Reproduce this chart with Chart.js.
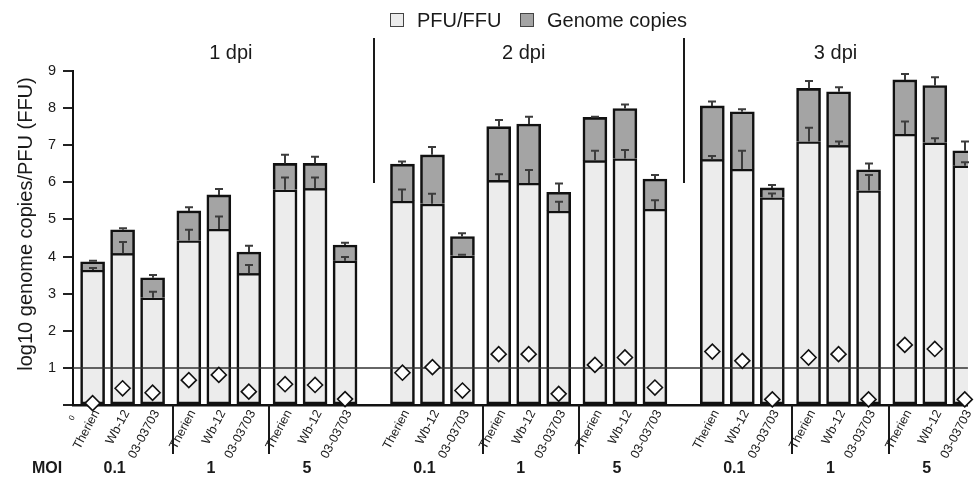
<!DOCTYPE html>
<html>
<head>
<meta charset="utf-8">
<script src="https://cdn.jsdelivr.net/npm/chart.js@4.4.1/dist/chart.umd.min.js"></script>
<style>
  html, body { margin: 0; padding: 0; background: #fff; }
  #wrap { width: 977px; height: 478px; position: relative; }
</style>
</head>
<body>
<div id="wrap"><canvas id="c" width="977" height="478"></canvas></div>
<script>
// ---- data ----
const dpiGroups = ['1 dpi', '2 dpi', '3 dpi'];
const moiLevels = ['0.1', '1', '5'];
const strains = ['Therien', 'Wb-12', '03-03703'];
const yTicks = [0, 1, 2, 3, 4, 5, 6, 7, 8, 9];

// order: dpi -> MOI -> strain
const pfu = [
  3.64, 4.09, 2.89, 4.43, 4.74, 3.55, 5.80, 5.84, 3.89,
  5.50, 5.42, 4.02, 6.06, 5.98, 5.23, 6.59, 6.64, 5.28,
  6.62, 6.36, 5.59, 7.10, 7.00, 5.78, 7.30, 7.07, 6.45
];
const pfuErr = [
  0.05, 0.30, 0.16, 0.29, 0.34, 0.22, 0.33, 0.29, 0.10,
  0.31, 0.27, 0.03, 0.16, 0.35, 0.25, 0.26, 0.23, 0.24,
  0.09, 0.49, 0.11, 0.37, 0.10, 0.42, 0.34, 0.12, 0.09
];
const genome = [
  3.86, 4.72, 3.43, 5.23, 5.66, 4.12, 6.51, 6.51, 4.31,
  6.49, 6.74, 4.54, 7.50, 7.57, 5.73, 7.75, 7.99, 6.09,
  8.06, 7.90, 5.85, 8.53, 8.44, 6.34, 8.76, 8.61, 6.85
];
const genomeErr = [
  0.03, 0.04, 0.07, 0.10, 0.16, 0.17, 0.23, 0.18, 0.06,
  0.07, 0.21, 0.09, 0.18, 0.20, 0.24, 0.02, 0.11, 0.11,
  0.12, 0.07, 0.08, 0.20, 0.12, 0.17, 0.16, 0.22, 0.25
];
const ratio = [
  0.05, 0.45, 0.33, 0.67, 0.81, 0.36, 0.56, 0.54, 0.16,
  0.87, 1.02, 0.39, 1.37, 1.37, 0.30, 1.08, 1.28, 0.47,
  1.44, 1.19, 0.15, 1.28, 1.37, 0.15, 1.62, 1.51, 0.15
];
const refLine = 1;

// ---- layout of the slots on the linear x scale ----
const SUB_STRIDE = 3.208, GRP_STRIDE = 10.33;
const pos = [];
dpiGroups.forEach((g, gi) => moiLevels.forEach((m, mi) => strains.forEach((s, si) => {
  pos.push(gi * GRP_STRIDE + mi * SUB_STRIDE + si);
})));

const FONT = '"Liberation Sans", Arial, Helvetica, sans-serif';
Chart.defaults.font.family = FONT;
Chart.defaults.color = '#1a1a1a';

const PFU_COLOR = '#ececec', GEN_COLOR = '#a4a4a4', EDGE = '#111111';

const deco = {
  id: 'deco',
  beforeDatasetDraw(chart, args) {
    if (args.index !== 2) return;
    const { ctx, scales: { x, y }, chartArea: a } = chart;
    ctx.save();
    // error bars
    ctx.strokeStyle = '#3c3c3c';
    ctx.lineWidth = 2;
    pos.forEach((p, i) => {
      const px = Math.round(x.getPixelForValue(p));
      [[pfu[i], pfuErr[i]], [genome[i], genomeErr[i]]].forEach(([v, e]) => {
        const y0 = y.getPixelForValue(v), y1 = y.getPixelForValue(v + e);
        ctx.beginPath();
        ctx.moveTo(px, y0); ctx.lineTo(px, y1);
        ctx.moveTo(px - 4, y1); ctx.lineTo(px + 4, y1);
        ctx.stroke();
      });
    });
    // reference line
    ctx.strokeStyle = '#333';
    ctx.lineWidth = 1.5;
    const yl = y.getPixelForValue(refLine);
    ctx.beginPath(); ctx.moveTo(a.left, yl); ctx.lineTo(a.right, yl); ctx.stroke();
    ctx.restore();
  },
  afterDraw(chart) {
    const { ctx, scales: { x, y }, chartArea: a } = chart;
    ctx.save();
    ctx.fillStyle = '#1a1a1a';
    // legend
    const items = [['PFU/FFU', PFU_COLOR, 390], ['Genome copies', GEN_COLOR, 520]];
    ctx.font = '20px ' + FONT;
    ctx.textBaseline = 'middle';
    ctx.textAlign = 'left';
    items.forEach(([t, c, lx]) => {
      ctx.fillStyle = c;
      ctx.fillRect(lx, 13, 14, 14);
      ctx.strokeStyle = '#444'; ctx.lineWidth = 1;
      ctx.strokeRect(lx + 0.5, 13.5, 13, 13);
      ctx.fillStyle = '#1a1a1a';
      ctx.fillText(t, lx + 27, 21);
    });
    // dpi titles
    const tOff = [12, -5, -3];
    ctx.textAlign = 'center';
    dpiGroups.forEach((g, gi) => {
      const cx = x.getPixelForValue(pos[gi * 9 + 4]) + tOff[gi];
      ctx.fillText(g, cx, 53);
    });
    // separators between dpi groups (top)
    ctx.strokeStyle = '#1a1a1a';
    ctx.lineWidth = 2;
    for (let gi = 0; gi < dpiGroups.length - 1; gi++) {
      const sx = Math.round(x.getPixelForValue((pos[gi * 9 + 8] + pos[gi * 9 + 9]) / 2));
      ctx.beginPath(); ctx.moveTo(sx, 38); ctx.lineTo(sx, 183); ctx.stroke();
    }
    // separators between MOI subgroups (below axis)
    dpiGroups.forEach((g, gi) => {
      for (let mi = 0; mi < moiLevels.length - 1; mi++) {
        const i = gi * 9 + mi * 3 + 2;
        const sx = Math.round(x.getPixelForValue((pos[i] + pos[i + 1]) / 2)) + 2;
        ctx.beginPath(); ctx.moveTo(sx, a.bottom); ctx.lineTo(sx, a.bottom + 49); ctx.stroke();
      }
    });
    // strain labels (rotated)
    ctx.font = '12.5px ' + FONT;
    ctx.textAlign = 'right';
    ctx.textBaseline = 'middle';
    pos.forEach((p, i) => {
      const px = x.getPixelForValue(p);
      ctx.save();
      ctx.translate(px + 4, a.bottom + 6);
      ctx.rotate(-62 * Math.PI / 180);
      ctx.fillText(strains[i % 3], 0, 0);
      ctx.restore();
    });
    // small zero label
    ctx.save();
    ctx.font = '8px ' + FONT;
    ctx.textAlign = 'center';
    ctx.translate(72, a.bottom + 13);
    ctx.rotate(-62 * Math.PI / 180);
    ctx.fillText(String(yTicks[0]), 0, 0);
    ctx.restore();
    // MOI row
    ctx.font = 'bold 16px ' + FONT;
    ctx.textAlign = 'center';
    ctx.textBaseline = 'middle';
    ctx.fillText('MOI', 47, 469);
    dpiGroups.forEach((g, gi) => moiLevels.forEach((m, mi) => {
      const cx = x.getPixelForValue(pos[gi * 9 + mi * 3 + 1]) - 8;
      ctx.fillText(m, cx, 469);
    }));
    // y axis title
    ctx.font = '20px ' + FONT;
    ctx.translate(26, 224);
    ctx.rotate(-Math.PI / 2);
    ctx.fillText('log10 genome copies/PFU (FFU)', 0, 0);
    ctx.restore();
  }
};

new Chart(document.getElementById('c'), {
  type: 'bar',
  data: {
    datasets: [
      {
        label: 'PFU/FFU',
        data: pos.map((p, i) => ({ x: p, y: pfu[i] })),
        backgroundColor: PFU_COLOR,
        borderColor: EDGE,
        borderWidth: 2.6,
        borderSkipped: false,
        barThickness: 24,
        grouped: false,
        order: 2
      },
      {
        label: 'Genome copies',
        data: pos.map((p, i) => ({ x: p, y: [pfu[i], genome[i]] })),
        backgroundColor: GEN_COLOR,
        borderColor: EDGE,
        borderWidth: 2.6,
        borderSkipped: 'bottom',
        barThickness: 24,
        grouped: false,
        order: 1
      },
      {
        type: 'scatter',
        label: 'ratio',
        data: pos.map((p, i) => ({ x: p, y: ratio[i] })),
        pointStyle: 'rectRot',
        pointRadius: 7.5,
        pointHoverRadius: 7.5,
        pointBackgroundColor: '#ffffff',
        pointBorderColor: '#111',
        pointBorderWidth: 1.6,
        showLine: false,
        clip: false,
        order: 0
      }
    ]
  },
  options: {
    responsive: false,
    animation: false,
    devicePixelRatio: 1,
    layout: { padding: { top: 71, left: 0, right: 0, bottom: 0 } },
    plugins: { legend: { display: false }, tooltip: { enabled: false } },
    scales: {
      x: {
        type: 'linear',
        min: -0.6535,
        max: 29.18,
        offset: false,
        grid: { display: false, drawTicks: false },
        ticks: { display: false },
        border: { display: true, width: 2.5, color: '#111' },
        afterFit(s) { s.height = 73; }
      },
      y: {
        min: 0,
        max: 9,
        afterBuildTicks(s) { s.ticks = yTicks.map(v => ({ value: v })); },
        ticks: {
          font: { size: 14.5 },
          color: '#1a1a1a',
          padding: 7,
          callback: v => (v === 0 ? '' : String(v))
        },
        grid: { drawOnChartArea: false, drawTicks: true, tickLength: 10, color: '#222', lineWidth: 2 },
        border: { display: true, width: 2, color: '#111' },
        afterFit(s) { s.width = 73; }
      }
    }
  },
  plugins: [deco]
});
</script>
</body>
</html>
